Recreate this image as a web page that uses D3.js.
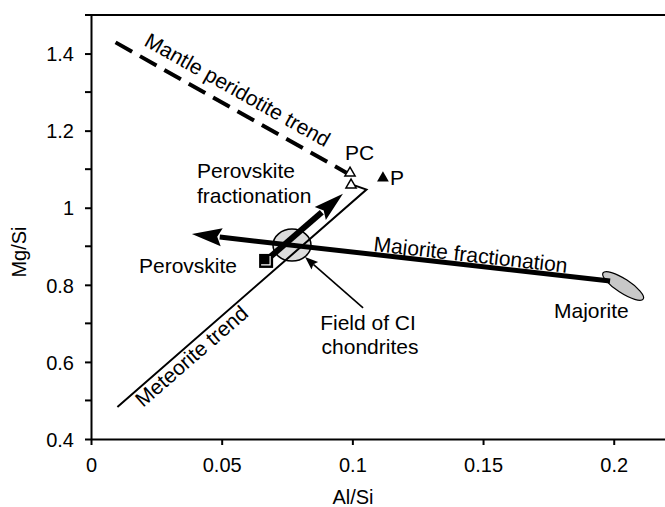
<!DOCTYPE html>
<html>
<head>
<meta charset="utf-8">
<script src="https://cdn.jsdelivr.net/npm/d3@7"></script>
<style>
body { margin: 0; background: #fff; }
svg text { font-family: "Liberation Sans", Arial, Helvetica, sans-serif; fill: #000; }
</style>
</head>
<body>
<div id="chart"></div>
<script>
// axis ticks
var xTicks = [0, 0.05, 0.1, 0.15, 0.2];
var yTicks = [0.4, 0.6, 0.8, 1, 1.2, 1.4];
var yMinorTicks = [0.5, 0.7, 0.9, 1.1, 1.3, 1.5];

// trends (Al/Si, Mg/Si)
var mantleTrend = [[0.0094, 1.429], [0.0977, 1.091]];
var meteoriteTrend = [[0.0101, 0.483], [0.1054, 1.047], [0.1008, 1.058]];

// fractionation arrows: [start, tip]
var perovskiteArrow = [[0.0685, 0.872], [0.0964, 1.036]];
var majoriteArrow = [[0.1986, 0.810], [0.0386, 0.932]];
var ciPointer = [[0.1041, 0.740], [0.0819, 0.872]];

// fields and points
var ciField = [0.0769, 0.903];
var majoriteField = [0.2036, 0.797];
var perovskitePoint = [0.067, 0.862];
var openTriangles = [[0.0991, 1.090], [0.0995, 1.059]];
var filledTriangles = [[0.1117, 1.077]];

var margin = {left: 91, top: 15, right: 0, bottom: 68};
var width = 665, height = 507;

var svg = d3.select("#chart").append("svg")
	.attr("width", width)
	.attr("height", height);

var x = d3.scaleLinear().domain([0, 0.22]).range([margin.left, margin.left + 575]);
var y = d3.scaleLinear().domain([0.4, 1.5]).range([height - margin.bottom, margin.top]);

// axes
var xAxis = d3.axisBottom(x).tickValues(xTicks).tickSize(6).tickSizeOuter(0)
	.tickFormat(function(d) { return d3.format("")(+d.toFixed(2)); });
var gx = svg.append("g").attr("transform", "translate(0," + y(0.4) + ")").call(xAxis);
gx.select(".domain").attr("stroke-width", 2);
gx.selectAll(".tick line").attr("stroke-width", 2);
gx.selectAll(".tick text").attr("font-size", 20).attr("dy", null).attr("y", 33);

var yAxis = d3.axisLeft(y).tickValues(yTicks).tickSize(6).tickSizeOuter(0)
	.tickFormat(function(d) { return +d.toFixed(1); });
var gy = svg.append("g").attr("transform", "translate(" + x(0) + ",0)").call(yAxis);
gy.select(".domain").attr("stroke-width", 2);
gy.selectAll(".tick line").attr("stroke-width", 2);
gy.selectAll(".tick text").attr("font-size", 20).attr("x", -17).attr("dy", "0.36em");

gy.selectAll("line.minor")
	.data(yMinorTicks)
	.enter()
	.append("line")
	.attr("class", "minor")
	.attr("x1", -6).attr("x2", 0)
	.attr("y1", function(d) { return y(d); })
	.attr("y2", function(d) { return y(d); })
	.attr("stroke", "#000").attr("stroke-width", 2);

// top frame line
svg.append("line")
	.attr("x1", x(0)).attr("x2", width)
	.attr("y1", y(1.5)).attr("y2", y(1.5))
	.attr("stroke", "#000").attr("stroke-width", 2);

svg.append("text").attr("x", 353).attr("y", 504)
	.attr("text-anchor", "middle").attr("font-size", 20).text("Al/Si");
svg.append("text")
	.attr("transform", "translate(26,252) rotate(-90)")
	.attr("text-anchor", "middle").attr("font-size", 20).text("Mg/Si");

var line = d3.line()
	.x(function(d) { return x(d[0]); })
	.y(function(d) { return y(d[1]); });

// fields (behind lines)
svg.append("ellipse")
	.attr("cx", x(ciField[0])).attr("cy", y(ciField[1]))
	.attr("rx", 19).attr("ry", 16)
	.attr("fill", "#dcdcdc").attr("stroke", "#000").attr("stroke-width", 1.5);

svg.append("ellipse")
	.attr("transform", "translate(" + x(majoriteField[0]) + "," + y(majoriteField[1]) + ") rotate(33)")
	.attr("rx", 24).attr("ry", 7)
	.attr("fill", "#c8c8c8").attr("stroke", "#000").attr("stroke-width", 1.2);

svg.append("path").datum(mantleTrend)
	.attr("d", line)
	.attr("fill", "none").attr("stroke", "#000")
	.attr("stroke-width", 4).attr("stroke-dasharray", "19,9");

svg.append("path").datum(meteoriteTrend)
	.attr("d", line)
	.attr("fill", "none").attr("stroke", "#000").attr("stroke-width", 2);

function arrow(pts, shaftW, headL, headW) {
	var x0 = x(pts[0][0]), y0 = y(pts[0][1]);
	var x1 = x(pts[1][0]), y1 = y(pts[1][1]);
	var dx = x1 - x0, dy = y1 - y0;
	var len = Math.sqrt(dx * dx + dy * dy);
	var ux = dx / len, uy = dy / len;
	var bx = x1 - ux * headL, by = y1 - uy * headL;
	svg.append("line")
		.attr("x1", x0).attr("y1", y0)
		.attr("x2", bx + ux * 2).attr("y2", by + uy * 2)
		.attr("stroke", "#000").attr("stroke-width", shaftW);
	var pts2 = [
		[x1, y1],
		[bx - uy * headW / 2, by + ux * headW / 2],
		[bx + ux * headL * 0.15, by + uy * headL * 0.15],
		[bx + uy * headW / 2, by - ux * headW / 2]
	];
	svg.append("polygon")
		.attr("points", pts2.map(function(p) { return p.join(","); }).join(" "))
		.attr("fill", "#000");
}

arrow(perovskiteArrow, 6, 30, 17);
arrow(majoriteArrow, 5, 30, 18);
arrow(ciPointer, 1.6, 13, 10);

// perovskite square
var sq = svg.append("g")
	.attr("transform", "translate(" + x(perovskitePoint[0]) + "," + y(perovskitePoint[1]) + ")");
sq.append("rect").attr("x", -7).attr("y", -7).attr("width", 14).attr("height", 14).attr("fill", "#000");
sq.append("polyline").attr("points", "-5,4 4,4 4,-5")
	.attr("fill", "none").attr("stroke", "#fff").attr("stroke-width", 1.2);

var tri = d3.symbol().type(d3.symbolTriangle).size(45);
svg.selectAll("path.open")
	.data(openTriangles)
	.enter()
	.append("path")
	.attr("class", "open")
	.attr("d", tri)
	.attr("transform", function(d) { return "translate(" + x(d[0]) + "," + y(d[1]) + ")"; })
	.attr("fill", "#fff").attr("stroke", "#000").attr("stroke-width", 1.5);
svg.selectAll("path.filled")
	.data(filledTriangles)
	.enter()
	.append("path")
	.attr("class", "filled")
	.attr("d", d3.symbol().type(d3.symbolTriangle).size(60))
	.attr("transform", function(d) { return "translate(" + x(d[0]) + "," + y(d[1]) + ")"; })
	.attr("fill", "#000");

// labels
var labels = [
	{text: "Mantle peridotite trend", px: 143, py: 45, rot: 29.4, anchor: "start"},
	{text: "Meteorite trend", px: 143, py: 408, rot: -41, anchor: "start"},
	{text: "Perovskite", px: 197, py: 178, rot: 0, anchor: "start"},
	{text: "fractionation", px: 197, py: 203, rot: 0, anchor: "start"},
	{text: "PC", px: 345, py: 160, rot: 0, anchor: "start"},
	{text: "P", px: 390, py: 185, rot: 0, anchor: "start"},
	{text: "Perovskite", px: 139, py: 273, rot: 0, anchor: "start"},
	{text: "Majorite fractionation", px: 373, py: 251, rot: 6.4, anchor: "start"},
	{text: "Majorite", px: 554, py: 318, rot: 0, anchor: "start"},
	{text: "Field of CI", px: 368, py: 330, rot: 0, anchor: "middle"},
	{text: "chondrites", px: 370, py: 354, rot: 0, anchor: "middle"}
];

svg.selectAll("text.label")
	.data(labels)
	.enter()
	.append("text")
	.attr("class", "label")
	.attr("font-size", 21)
	.attr("text-anchor", function(d) { return d.anchor; })
	.attr("transform", function(d) {
		return "translate(" + d.px + "," + d.py + ") rotate(" + d.rot + ")";
	})
	.text(function(d) { return d.text; });
</script>
</body>
</html>
